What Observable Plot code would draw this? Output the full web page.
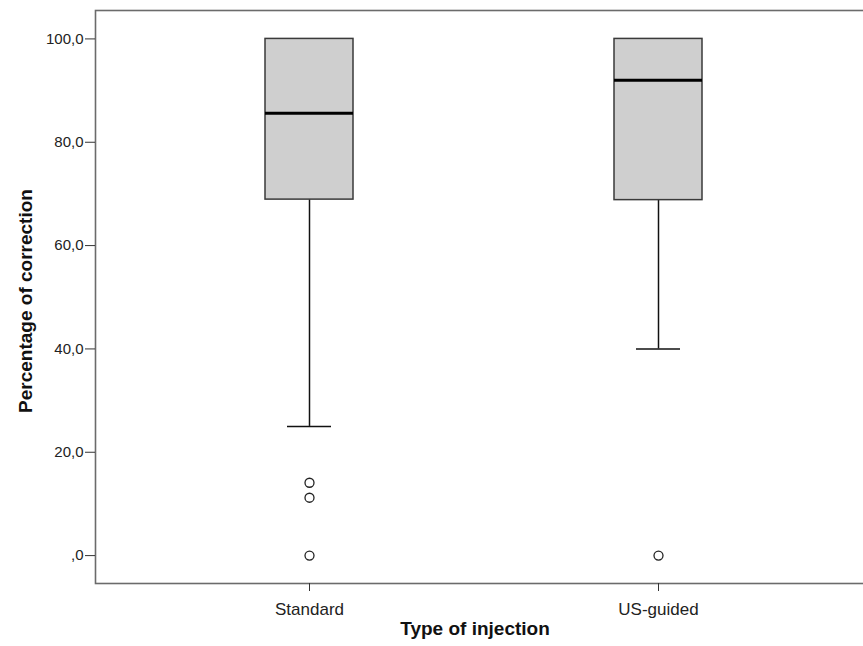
<!DOCTYPE html>
<html>
<head>
<meta charset="utf-8">
<script src="https://cdn.jsdelivr.net/npm/d3@7"></script>
<script src="https://cdn.jsdelivr.net/npm/@observablehq/plot@0.6"></script>
<style>
  body { margin: 0; background: #fff; }
  #chart svg { display: block; }
</style>
</head>
<body>
<div id="chart"></div>
<script>
// Categories and box statistics
const categories = ["Standard", "US-guided"];
const whiskerLow = [25.0, 40.0];
const q1 = [68.9, 68.8];
const median = [85.6, 92.0];
const q3 = [100.0, 100.0];
const whiskerHigh = [100.0, 100.0];

// Outliers
const outlierCategory = ["Standard", "Standard", "Standard", "US-guided"];
const outlierValue = [14.1, 11.2, 0.0, 0.0];

// Axis ticks
const yTicks = [0, 20, 40, 60, 80, 100];
const yTitle = "Percentage of correction";
const xTitle = "Type of injection";

const stats = categories.map((c, i) => ({
  cat: c, lo: whiskerLow[i], q1: q1[i], med: median[i], q3: q3[i], hi: whiskerHigh[i]
}));
const outliers = outlierCategory.map((c, i) => ({cat: c, v: outlierValue[i]}));

const fmt = d => d === 0 ? ",0" : d.toFixed(1).replace(".", ",");
const font = "'Liberation Sans', Arial, Helvetica, sans-serif";

const chart = Plot.plot({
  width: 863,
  height: 646,
  marginLeft: 95,
  marginRight: -1,
  marginTop: 10,
  marginBottom: 63,
  style: {fontFamily: font, background: "#fff", color: "#222"},
  x: {type: "band", domain: categories, range: [264.3, 701.7], paddingInner: 0.748, paddingOuter: 0},
  y: {domain: [-5.4, 105.5]},
  marks: [
    Plot.frame({stroke: "#6b6b6b", strokeWidth: 1.6}),
    // whiskers
    Plot.ruleX(stats, {x: "cat", y1: "lo", y2: "q1", stroke: "#111", strokeWidth: 1.5}),
    Plot.ruleX(stats, {x: "cat", y1: "q3", y2: "hi", stroke: "#111", strokeWidth: 1.5}),
    Plot.tickY(stats, {x: "cat", y: "lo", stroke: "#111", strokeWidth: 1.5, insetLeft: 22, insetRight: 22}),
    Plot.tickY(stats, {x: "cat", y: "hi", stroke: "#111", strokeWidth: 1.5, insetLeft: 22, insetRight: 22}),
    // boxes
    Plot.barY(stats, {x: "cat", y1: "q1", y2: "q3", fill: "#cfcfcf", stroke: "#3a3a3a", strokeWidth: 1.5}),
    // medians
    Plot.tickY(stats, {x: "cat", y: "med", stroke: "#000", strokeWidth: 3}),
    // outliers
    Plot.dot(outliers, {x: "cat", y: "v", r: 4.5, stroke: "#222", strokeWidth: 1.3, fill: "#fff"}),
    // axes
    Plot.axisY({ticks: yTicks, tickFormat: fmt, tickSize: 10, tickPadding: 2, fontSize: 15, label: null, stroke: "#333"}),
    Plot.axisX({tickSize: 8, tickPadding: 11, fontSize: 17, label: null, stroke: "#333"}),
    // titles
    Plot.text([yTitle], {frameAnchor: "left", textAnchor: "middle", rotate: -90, dx: -70, dy: 4, fontSize: 19, fontWeight: "bold", fill: "#111"}),
    Plot.text([xTitle], {frameAnchor: "bottom", textAnchor: "middle", dy: 51, dx: -5, fontSize: 19, fontWeight: "bold", fill: "#111"})
  ]
});
document.getElementById("chart").appendChild(chart);
</script>
</body>
</html>
